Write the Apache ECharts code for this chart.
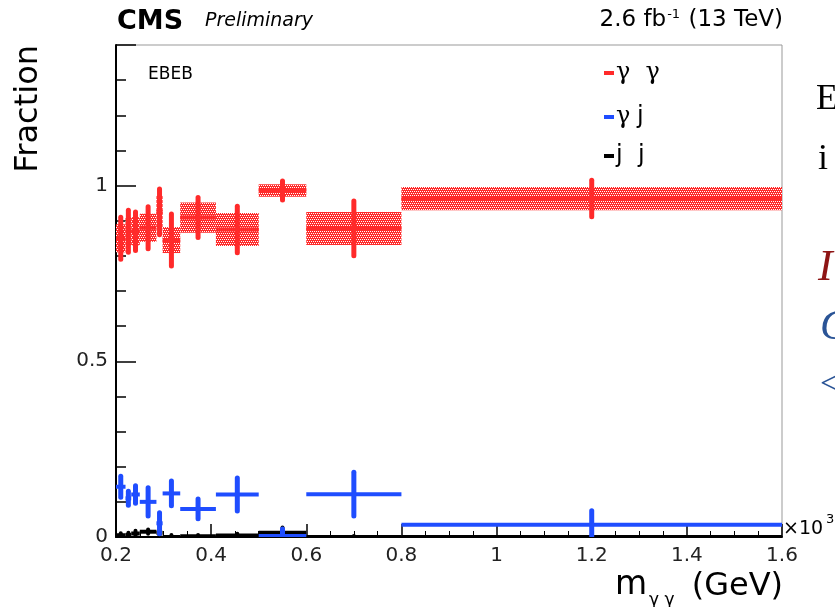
<!DOCTYPE html>
<html>
<head>
<meta charset="utf-8">
<script src="https://cdn.jsdelivr.net/npm/echarts@6/dist/echarts.min.js"></script>
<style>
html, body { margin: 0; padding: 0; background: #fff; }
#chart { width: 835px; height: 607px; }
</style>
</head>
<body>
<div id="chart"></div>
<script>
// m_gg bins, in units of 10^3 GeV
const binLo  = [0.2,  0.22,  0.232, 0.25,   0.285,  0.298,  0.335,  0.41,  0.5,  0.6, 0.8];
const binHi  = [0.22, 0.232, 0.25,  0.285,  0.298,  0.335,  0.41,   0.5,   0.6,  0.8, 1.6];
const binMid = [0.21, 0.226, 0.241, 0.2675, 0.2915, 0.3165, 0.3725, 0.455, 0.55, 0.7, 1.2];

// gamma gamma fraction
const ggVal  = [0.85, 0.87, 0.87,  0.88, 0.925, 0.845, 0.909, 0.875, 0.986, 0.878, 0.963];
const ggStat = [0.06, 0.06, 0.055, 0.06, 0.065, 0.074, 0.057, 0.066, 0.027, 0.078, 0.052];
const ggSys  = [0.04, 0.04, 0.04,  0.04, 0.045, 0.037, 0.043, 0.047, 0.018, 0.047, 0.033];

// gamma jet fraction
const gjVal  = [0.143, 0.110, 0.121, 0.100, 0.039, 0.124, 0.080, 0.121, 0.003, 0.122, 0.035];
const gjStat = [0.03,  0.02,  0.025, 0.04,  0.03,  0.035, 0.028, 0.047, 0.02,  0.062, 0.04];

// jet jet fraction
const jjVal  = [0.005, 0.006, 0.01,  0.015, 0.012, 0.0,   0.002, 0.004, 0.012, 0.0,   0.0];
const jjStat = [0.006, 0.006, 0.008, 0.006, 0.008, 0.006, 0.004, 0.005, 0.015, 0.003, 0.002];

const xTicks = [0.2, 0.4, 0.6, 0.8, 1, 1.2, 1.4, 1.6];
const yTicks = [0, 0.5, 1];

const FONT = "DejaVu Sans";

// ROOT style hatch for the systematic boxes
function hatch(color) {
    let c = document.createElement("canvas");
    c.width = 4;
    c.height = 4;
    let ctx = c.getContext("2d");
    ctx.fillStyle = "#fff";
    ctx.fillRect(0, 0, 4, 4);
    ctx.fillStyle = color;
    ctx.fillRect(0, 0, 4, 1);
    ctx.fillRect(0, 1, 1, 1);
    ctx.fillRect(2, 1, 1, 1);
    ctx.fillRect(0, 2, 4, 1);
    ctx.fillRect(1, 3, 1, 1);
    ctx.fillRect(3, 3, 1, 1);
    return c;
}

function rows(val, stat, sys) {
    return val.map((v, i) => [binLo[i], binHi[i], binMid[i], v, stat[i], sys ? sys[i] : 0]);
}

function errorItem(color, hw, vw, pattern) {
    return function (params, api) {
        let lo = api.value(0), hi = api.value(1), mid = api.value(2);
        let v = api.value(3), err = api.value(4), sys = api.value(5);
        let kids = [];
        if (sys > 0) {
            let a = api.coord([lo, v + sys]);
            let b = api.coord([hi, Math.max(0, v - sys)]);
            kids.push({
                type: "rect",
                shape: { x: a[0], y: a[1], width: b[0] - a[0], height: b[1] - a[1] },
                style: { fill: { image: pattern, repeat: "repeat" } }
            });
        }
        let l = api.coord([lo, v]), r = api.coord([hi, v]);
        let t = api.coord([mid, v + err]), d = api.coord([mid, Math.max(0, v - err)]);
        kids.push({
            type: "line",
            shape: { x1: l[0], y1: l[1], x2: r[0], y2: r[1] },
            style: { stroke: color, lineWidth: hw }
        });
        kids.push({
            type: "line",
            shape: { x1: t[0], y1: t[1], x2: d[0], y2: d[1] },
            style: { stroke: color, lineWidth: vw, lineCap: "round" }
        });
        return { type: "group", children: kids };
    };
}

const RED = "#ff2a2a", BLUE = "#1f4dff", BLACK = "#000";

let chart = echarts.init(document.getElementById("chart"));

let legendRows = [
    { y: 73, color: RED, text: "{g|γ  γ}" },
    { y: 117, color: BLUE, text: "{g|γ}  {j|j}" },
    { y: 156, color: BLACK, text: "{j|j  j}" }
];

let graphics = [
    { type: "text", left: 117, top: 8, style: { text: "CMS", font: "bold 27px " + FONT, fill: "#000" } },
    { type: "text", left: 205, top: 12, style: { text: "Preliminary", font: "italic 19px " + FONT, fill: "#000" } },
    {
        type: "text", right: 52, top: 8,
        style: {
            text: "{a|2.6 fb}{s|-1}{a| (13 TeV)}",
            rich: {
                a: { fontFamily: FONT, fontSize: 23, fill: "#000" },
                s: { fontFamily: FONT, fontSize: 13, fill: "#000", padding: [0, 1, 12, 1] }
            }
        }
    },
    {
        type: "text", x: 29, y: 45, rotation: Math.PI / 2,
        style: { text: "Fraction", font: "32px " + FONT, fill: "#000", align: "right", verticalAlign: "middle" }
    },
    { type: "text", left: 148, top: 66, style: { text: "EBEB", font: "17px " + FONT, fill: "#000" } },
    { type: "text", x: 615, y: 602, style: { text: "m", font: "33px " + FONT, fill: "#000", verticalAlign: "bottom" } },
    { type: "text", x: 649, y: 609, style: { text: "γ γ", font: "17px " + FONT, fill: "#000", verticalAlign: "bottom" } },
    { type: "text", x: 783, y: 603, style: { text: "(GeV)", font: "32px " + FONT, fill: "#000", align: "right", verticalAlign: "bottom" } },
    { type: "text", x: 783, y: 529, style: { text: "×10", font: "19px " + FONT, fill: "#000", verticalAlign: "middle" } },
    { type: "text", x: 826, y: 520, style: { text: "3", font: "13px " + FONT, fill: "#000", verticalAlign: "middle" } },
    // bits of the slide text cut off at the right edge
    { type: "text", x: 816, y: 100, style: { text: "E", font: "36px Liberation Serif", fill: "#000", verticalAlign: "middle" } },
    { type: "text", x: 818, y: 160, style: { text: "i", font: "36px Liberation Serif", fill: "#000", verticalAlign: "middle" } },
    { type: "text", x: 818, y: 268, style: { text: "I", font: "italic 44px Liberation Serif", fill: "#8e1515", verticalAlign: "middle" } },
    { type: "text", x: 820, y: 328, style: { text: "C", font: "italic 42px Liberation Serif", fill: "#2a5496", verticalAlign: "middle" } },
    { type: "text", x: 820, y: 385, style: { text: "<", font: "34px Liberation Serif", fill: "#2a5496", verticalAlign: "middle" } }
];

legendRows.forEach(r => {
    graphics.push({
        type: "line", shape: { x1: 604, y1: r.y, x2: 614, y2: r.y },
        style: { stroke: r.color, lineWidth: 4 }
    });
    graphics.push({
        type: "text", x: 616, y: r.y,
        style: {
            text: r.text, verticalAlign: "middle",
            rich: {
                g: { fontFamily: "DejaVu Serif", fontSize: 24, fill: "#000" },
                j: { fontFamily: FONT, fontSize: 24, fill: "#000" }
            }
        }
    });
});

let option = {
    animation: false,
    backgroundColor: "#fff",
    grid: {
        left: 116, right: 53, top: 45, bottom: 70,
        show: true, borderColor: "#999", borderWidth: 1, backgroundColor: "#fff"
    },
    xAxis: {
        type: "value", min: 0.2, max: 1.6, interval: 0.2,
        axisLine: { onZero: false, lineStyle: { color: "#000", width: 2 } },
        axisTick: { inside: true, length: 13, lineStyle: { color: "#000", width: 1.5 } },
        minorTick: { show: true, splitNumber: 4, length: 6, lineStyle: { color: "#000", width: 1 } },
        splitLine: { show: false },
        axisLabel: {
            fontFamily: FONT, fontSize: 20, color: "#222", margin: 9,
            formatter: v => {
                let t = xTicks.find(x => Math.abs(x - v) < 1e-6);
                return t === undefined ? "" : String(t);
            }
        }
    },
    yAxis: [
        {
            type: "value", position: "left", min: 0, max: 1.4, interval: 0.1,
            axisLine: { onZero: false, lineStyle: { color: "#000", width: 2 } },
            axisTick: { inside: true, length: 10, lineStyle: { color: "#000", width: 1.5 } },
            splitLine: { show: false },
            axisLabel: {
                fontFamily: FONT, fontSize: 20, color: "#222", margin: 8,
                formatter: v => {
                    let t = yTicks.find(y => Math.abs(y - v) < 1e-6);
                    return t === undefined ? "" : String(t);
                }
            }
        },
        {
            type: "value", position: "left", min: 0, max: 1.4, interval: 0.5,
            axisLine: { show: false },
            axisTick: { inside: true, length: 20, lineStyle: { color: "#000", width: 1.5 } },
            axisLabel: { show: false },
            splitLine: { show: false }
        }
    ],
    graphic: graphics,
    series: [
        {
            type: "custom", name: "jj", clip: true,
            renderItem: errorItem(BLACK, 4, 4, null),
            encode: { x: [0, 1], y: 3 },
            data: rows(jjVal, jjStat, null), z: 3
        },
        {
            type: "custom", name: "gj", clip: true,
            renderItem: errorItem(BLUE, 4, 5, null),
            encode: { x: [0, 1], y: 3 },
            data: rows(gjVal, gjStat, null), z: 4
        },
        {
            type: "custom", name: "gg", clip: true,
            renderItem: errorItem(RED, 4, 5, hatch(RED)),
            encode: { x: [0, 1], y: 3 },
            data: rows(ggVal, ggStat, ggSys), z: 5
        }
    ]
};

chart.setOption(option);
</script>
</body>
</html>
